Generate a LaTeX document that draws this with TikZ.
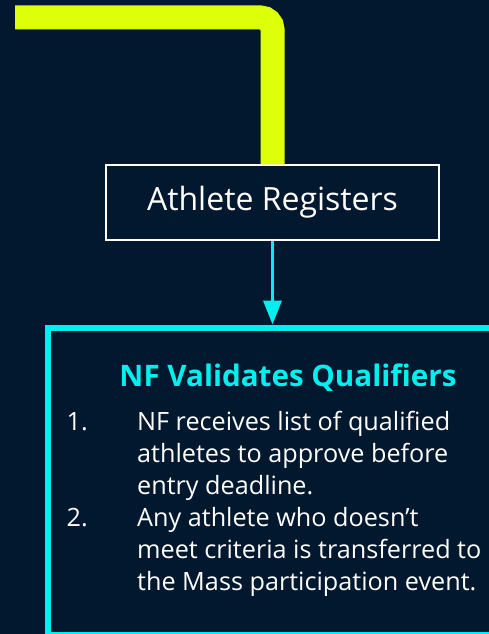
\documentclass[tikz,border=0pt]{standalone}
\usepackage{fontspec}
\setmainfont{Open Sans}
\usetikzlibrary{arrows.meta}
\definecolor{navy}{RGB}{2,24,46}
\definecolor{lime}{RGB}{222,255,10}
\definecolor{aqua}{RGB}{0,240,240}

\begin{document}
\begin{tikzpicture}[x=1pt,y=-1pt,
    stepbox/.style={draw=white,line width=1.2pt,minimum width=333pt,minimum height=75pt,
      text=white,font=\fontsize{32}{36}\selectfont},
    qualbox/.style={draw=aqua,line width=6pt,minimum width=444pt,minimum height=307pt},
    body/.style={text=white,inner sep=0pt,align=left,font=\fontsize{25.2}{31.8}\selectfont},
    flowline/.style={lime,line width=24pt,rounded corners=12pt},
    flowarrow/.style={aqua,line width=3.7pt,-{Triangle[length=24pt,width=18pt]}}]
   \fill[navy] (0,0) rectangle (489,634);
   \useasboundingbox (0,0) rectangle (489,634);
   \clip (0,0) rectangle (489,634);
   % boxes
   \node at (272.5,202.5) [stepbox] (reg) {Athlete Registers};
   \node at (269.5,481) [qualbox] (nf) {};
   \node at (288,386.7) [anchor=base,text=aqua,font=\fontsize{29.6}{36}\selectfont\bfseries] (title) {NF Validates Qualifiers};
   \node at (88,430.7) [anchor=base east,body] (n1) {1.};
   \node at (137,494) [anchor=base west,body] (t1) {NF receives list of qualified\\athletes to approve before\\entry deadline.};
   \node at (88,526.7) [anchor=base east,body] (n2) {2.};
   \node at (137,590) [anchor=base west,body] (t2) {Any athlete who doesn’t\\meet criteria is transferred to\\the Mass participation event.};
   % connectors
   \coordinate (start) at (15,17.5);
   \draw[flowline] (start) -| (reg.north);
   \draw[flowarrow] (reg.south) -- (reg.south |- nf.north);
\end{tikzpicture}
\end{document}
